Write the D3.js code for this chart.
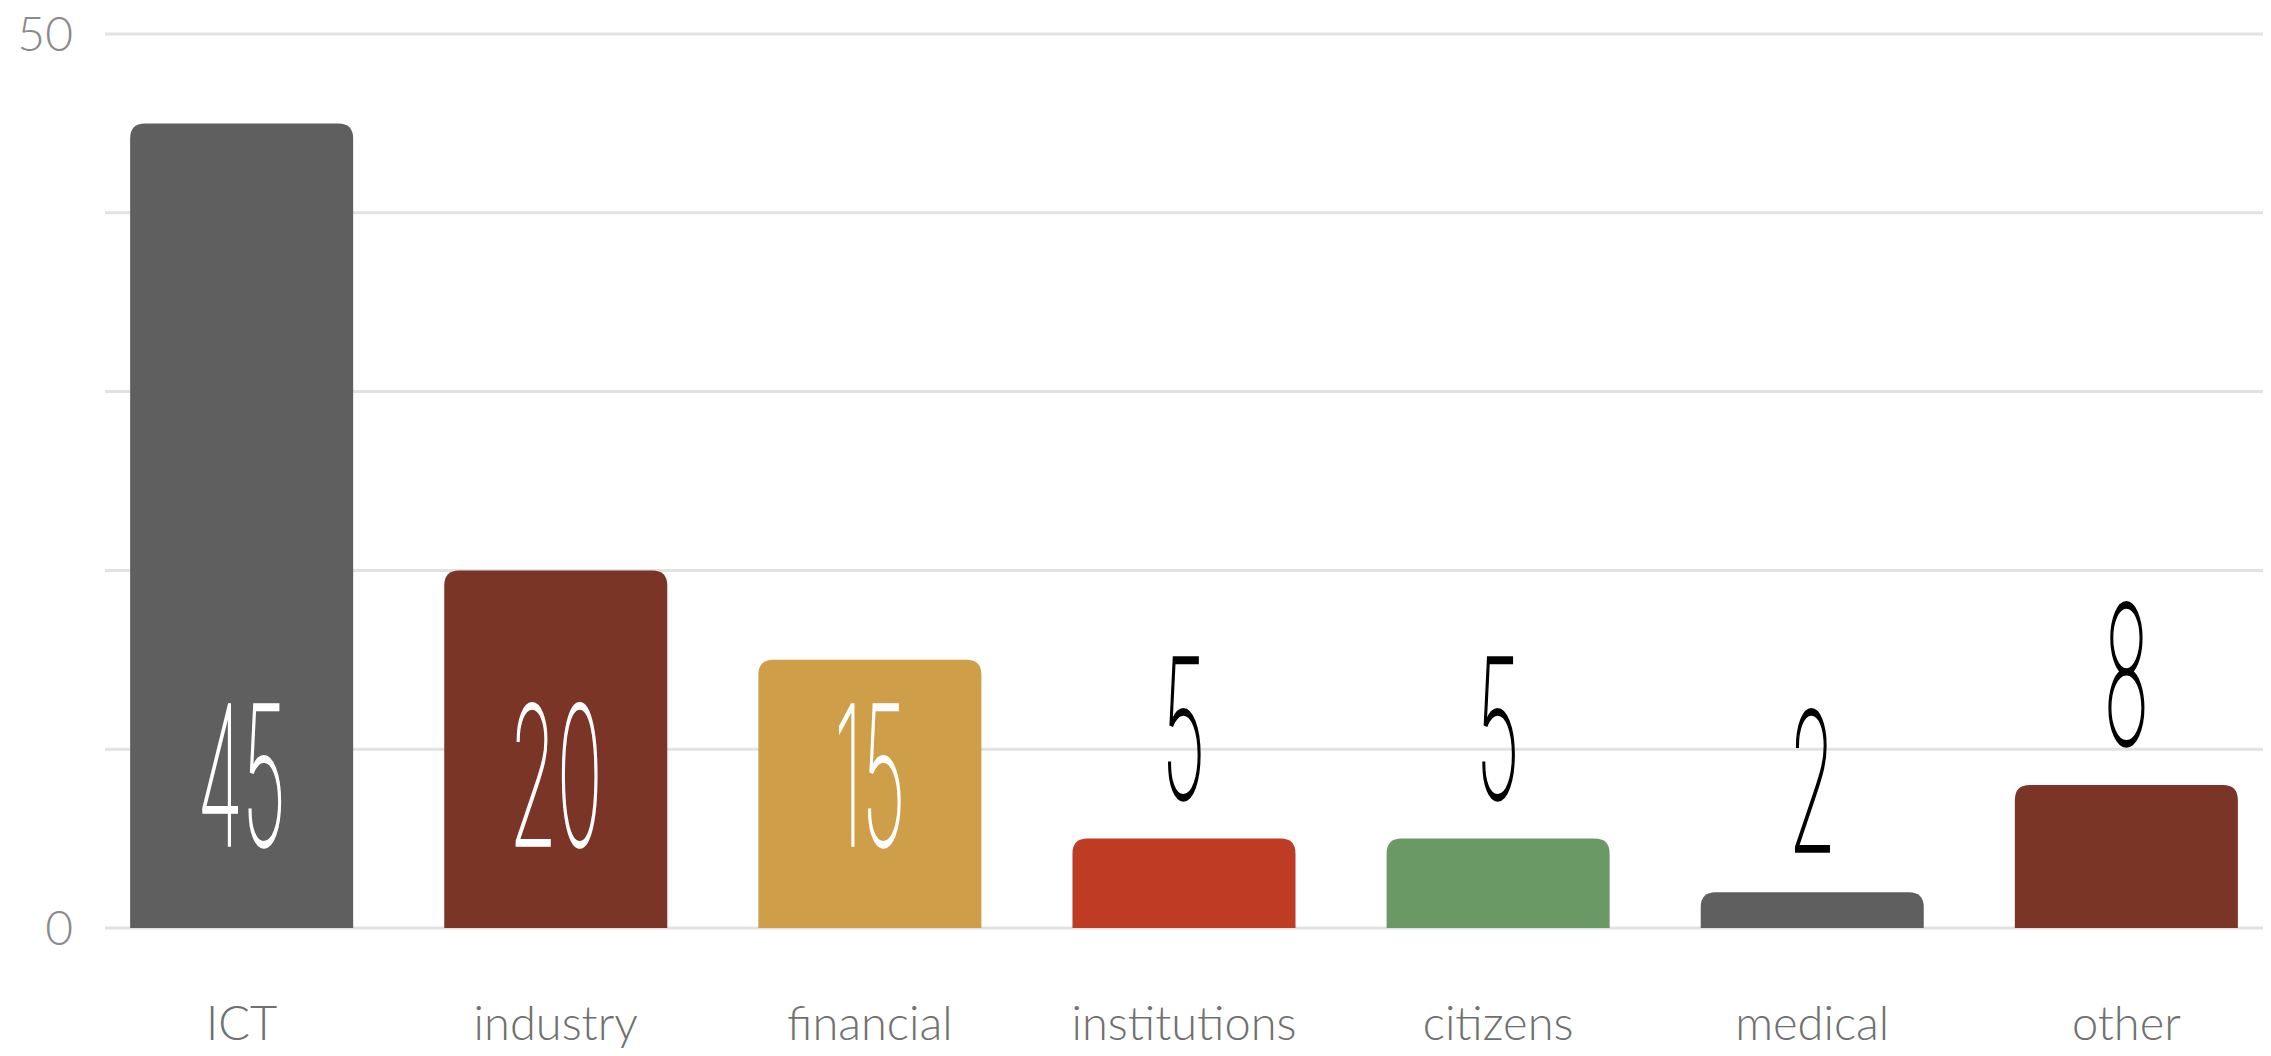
<!DOCTYPE html>
<html>
<head>
<meta charset="utf-8">
<script src="https://cdn.jsdelivr.net/npm/d3@7"></script>
<style>
  html, body { margin: 0; padding: 0; background: #fff; }
  svg { display: block; }
</style>
</head>
<body>
<svg id="chart" width="2271" height="1056"></svg>
<script>
'use strict';

const categories = ['ICT', 'industry', 'financial', 'institutions', 'citizens', 'medical', 'other'];
const values = [45, 20, 15, 5, 5, 2, 8];
const colors = ['#5f5f5f', '#7b3526', '#cf9e48', '#bf3c24', '#6a9966', '#5f5f5f', '#7b3526'];
const yTicks = [0, 10, 20, 30, 40, 50];
const yTickLabels = ['0', '', '', '', '', '50'];

const svg = d3.select('#chart');

const plotLeft = 105;
const plotRight = 2263;
const plotTop = 34;
const plotBottom = 928;

const x = d3.scaleBand()
  .domain(categories)
  .range([plotLeft, plotRight])
  .paddingInner(0.29)
  .paddingOuter(0.08);

const y = d3.scaleLinear()
  .domain([0, 50])
  .range([plotBottom, plotTop]);

// gridlines
svg.append('g')
  .selectAll('line')
  .data(yTicks)
  .join('line')
  .attr('x1', plotLeft)
  .attr('x2', plotRight)
  .attr('y1', d => y(d))
  .attr('y2', d => y(d))
  .attr('stroke', '#e2e2e2')
  .attr('stroke-width', 3);

// y labels
svg.append('g')
  .selectAll('text')
  .data(yTicks)
  .join('text')
  .attr('x', 73)
  .attr('y', d => y(d))
  .attr('dy', '0.36em')
  .attr('text-anchor', 'end')
  .attr('font-family', 'Lato')
  .attr('font-weight', 300)
  .attr('font-size', 48)
  .attr('fill', '#8a8a8a')
  .text((d, i) => yTickLabels[i]);

/**
 * Path for a bar with rounded top corners only
 */
function barPath(x0, y0, w, h, r) {
  r = Math.min(r, h, w / 2);
  return `M${x0},${y0 + h}V${y0 + r}Q${x0},${y0} ${x0 + r},${y0}` +
    `H${x0 + w - r}Q${x0 + w},${y0} ${x0 + w},${y0 + r}V${y0 + h}Z`;
}

const data = categories.map((c, i) => ({ cat: c, value: values[i], color: colors[i] }));

svg.append('g')
  .selectAll('path')
  .data(data)
  .join('path')
  .attr('d', d => barPath(x(d.cat), y(d.value), x.bandwidth(), plotBottom - y(d.value), 15))
  .attr('fill', d => d.color);

// value labels: condensed thin digits
const labelHeight = 150;
const insideBaseline = plotBottom - 83;
const isInside = d => plotBottom - y(d.value) > labelHeight + 20;

svg.append('g')
  .selectAll('text')
  .data(data)
  .join('text')
  .attr('transform', d => {
    const cx = x(d.cat) + x.bandwidth() / 2;
    const by = isInside(d) ? insideBaseline : y(d.value) - 41;
    return `translate(${cx},${by}) scale(0.4,1)`;
  })
  .attr('text-anchor', 'middle')
  .attr('font-family', 'Inter')
  .attr('font-weight', 100)
  .attr('font-size', 192)
  .attr('fill', d => (isInside(d) ? '#ffffff' : '#000000'))
  .attr('stroke', d => (isInside(d) ? '#ffffff' : '#000000'))
  .attr('stroke-width', 2.5)
  .attr('vector-effect', 'non-scaling-stroke')
  .text(d => d.value);

// category labels
svg.append('g')
  .selectAll('text')
  .data(data)
  .join('text')
  .attr('x', d => x(d.cat) + x.bandwidth() / 2)
  .attr('y', 1040)
  .attr('text-anchor', 'middle')
  .attr('font-family', 'Lato')
  .attr('font-weight', 300)
  .attr('font-size', 47)
  .attr('fill', '#707070')
  .text(d => d.cat);
</script>
</body>
</html>
